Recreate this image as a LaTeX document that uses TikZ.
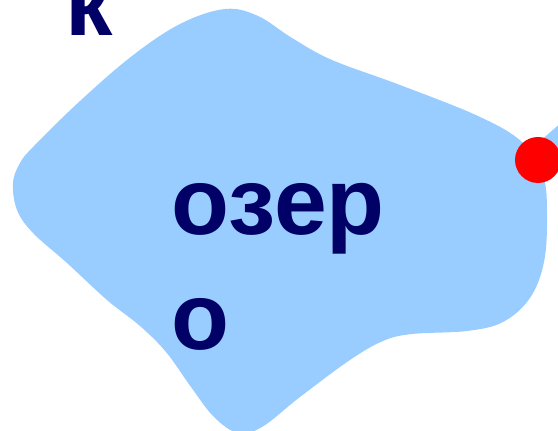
\documentclass[tikz,border=0pt]{standalone}
\usepackage{fontspec}
\setmainfont{Liberation Sans}
\definecolor{hoxanh}{HTML}{99CCFF}
\definecolor{chudam}{HTML}{000066}
\tikzset{
	nhan/.style={font=\bfseries\fontsize{54}{66}\selectfont,text=chudam,inner sep=0pt,align=left},
	diem/.style={circle,fill=red,inner sep=0pt,minimum size=0.92cm}
}
\begin{document}
\begin{tikzpicture}[x=0.02cm,y=-0.02cm]
		\useasboundingbox (0,0) rectangle (558,431);
		\clip (0,0) rectangle (558,431);
		% Mặt hồ
		\fill[hoxanh] plot[smooth cycle,tension=0.6] coordinates {(225,9) (258,16) (292,38) (332,60) (400,85) (478,116) (522,142) (543,175) (547,215) (544,262) (530,298) (503,322) (467,331) (412,334) (383,341) (350,360) (300,397) (262,427) (238,433) (214,417) (191,387) (166,352) (140,326) (107,300) (67,263) (33,233) (17,210) (13,183) (20,163) (34,146) (80,101) (132,56) (180,24)};
		% Dòng chảy ra
		\coordinate (nguon) at (538,160);
		\coordinate (cuasong) at (600,106);
		\draw[hoxanh,line width=14.7pt] (nguon) -- (cuasong);
		\node[diem] (dau) at (nguon) {};
		\node[nhan,anchor=base west] (ho) at (171,350) {озер\\о};
		\node[nhan,anchor=base west] (chu) at (65,36) {к};
\end{tikzpicture}
\end{document}
